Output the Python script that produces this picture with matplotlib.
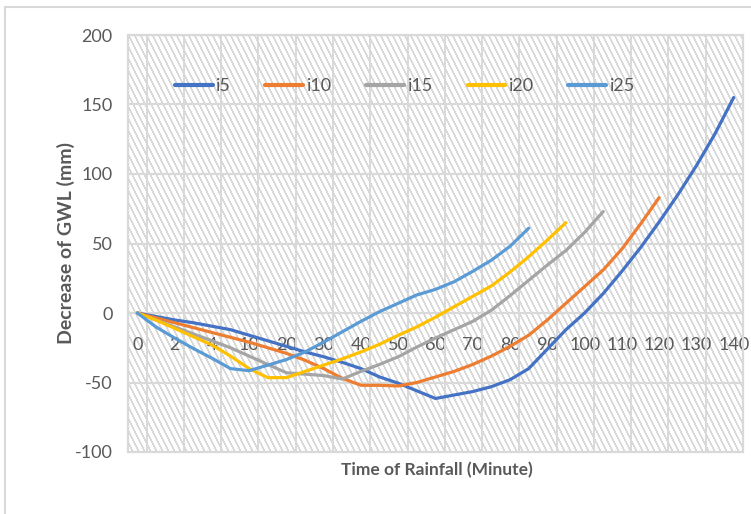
import numpy as np
import matplotlib
matplotlib.use("Agg")
import matplotlib.pyplot as plt
from matplotlib.patches import Rectangle

# ---- data ----
minutes = [0, 1, 2, 3, 4, 5, 10, 15, 20, 25, 30, 35, 40, 45, 50, 55, 60, 65, 70,
           75, 80, 85, 90, 95, 100, 105, 110, 115, 120, 125, 130, 135, 140]
i5 = [0, -2.5, -5, -7, -9.5, -12, -16, -20, -24, -28, -31.5, -35.5, -40, -46, -50.5,
      -56, -61.5, -59, -56.5, -53, -48, -40, -26, -12, 0, 14, 30, 47, 65.5, 85, 106, 129, 155]
i10 = [0, -3.5, -7, -10.5, -14, -17.5, -21, -25, -29, -34, -40, -47, -52, -52, -52.5,
       -50, -46, -42, -37, -31, -24, -16, -5, 7, 19, 31, 46, 64, 83]
i15 = [0, -5, -10, -15, -20, -25, -31, -37, -43, -44, -45, -47.5, -42, -37, -31.5,
       -24.5, -18, -12, -6, 2, 12.5, 23.5, 34.5, 45, 58, 73]
i20 = [0, -5, -11, -17, -23, -31, -40, -46.5, -46.5, -42, -37.5, -33, -28, -22.5, -16,
       -10, -3, 4.5, 12, 19.5, 29.5, 40.5, 52.5, 65]
i25 = [0, -10, -18, -25.5, -32.5, -40, -41.5, -37.5, -33.5, -28, -21, -13.5, -6, 1, 7,
       13, 17, 22.5, 30, 38, 48, 61]
series_names = ["i5", "i10", "i15", "i20", "i25"]
series_colors = ["#4472C4", "#ED7D31", "#A5A5A5", "#FFC000", "#5B9BD5"]
y_ticks = [-100, -50, 0, 50, 100, 150, 200]

plt.rcParams["font.family"] = ["Lato", "DejaVu Sans"]
plt.rcParams["axes.unicode_minus"] = False

W, H = 751, 514
fig = plt.figure(figsize=(W / 100, H / 100), dpi=100)
fig.patch.set_facecolor("white")

# plot-area position in pixels
L, R, T, B = 128, 743, 35, 452
pos = [L / W, 1 - B / H, (R - L) / W, (B - T) / H]

# fine downward-diagonal hatch, placed pixel-exact
ph, pw = B - T, R - L
ii, jj = np.mgrid[0:ph, 0:pw]
stripe = ((jj - ii // 2) % 6) < 2
img = np.ones((ph, pw, 3))
img[stripe] = np.array([216, 216, 216]) / 255.0
fig.figimage(img, xo=L, yo=H - B, origin="upper", zorder=0)

ax = fig.add_axes(pos, zorder=1)
ax.patch.set_alpha(0)

x = np.arange(len(minutes))
for name, col, vals in zip(series_names, series_colors, [i5, i10, i15, i20, i25]):
    ax.plot(x[:len(vals)], vals, color=col, lw=2.3, label=name,
            solid_joinstyle="round", solid_capstyle="round", zorder=3)

ax.set_xlim(-0.5, len(minutes) - 0.5)
ax.set_ylim(-100, 200)
ax.set_yticks(y_ticks)
major = list(range(0, len(minutes), 2))
ax.set_xticks(major)
ax.set_xticklabels([str(minutes[i]) for i in major])
ax.set_xticks(np.arange(0.5, len(minutes) - 1, 2), minor=True)

for s in ax.spines.values():
    s.set_visible(False)
ax.spines["bottom"].set_position(("data", 0))

ax.grid(axis="y", which="major", color="#d9d9d9", lw=1.6, zorder=1)
ax.grid(axis="x", which="minor", color="#d9d9d9", lw=1.4, zorder=1)
ax.grid(axis="x", which="major", visible=False)
ax.tick_params(axis="both", which="both", length=0)
ax.tick_params(axis="y", pad=11, labelsize=13, labelcolor="#595959")
ax.tick_params(axis="x", pad=17, labelsize=13, labelcolor="#595959")

ax.add_patch(Rectangle((0, 0), 1, 1, transform=ax.transAxes, fill=False,
                       edgecolor="#d9d9d9", lw=1.6, clip_on=False, zorder=2))

leg = ax.legend(ncol=5, loc="center", bbox_to_anchor=(405 / W, 1 - 86 / H),
                bbox_transform=fig.transFigure, frameon=False, fontsize=13,
                handlelength=2.1, handletextpad=0.2, columnspacing=1.9)
for t in leg.get_texts():
    t.set_color("#595959")
for h in leg.get_lines():
    h.set_linewidth(3)

fig.text(66 / W, 1 - 243 / H, "Decrease of GWL (mm)", rotation=90, ha="center",
         va="center", fontsize=14, fontweight="bold", color="#595959")
fig.text(437 / W, 1 - 470 / H, "Time of Rainfall (Minute)", ha="center",
         va="center", fontsize=12.5, fontweight="bold", color="#595959")

# outer chart frame (partially cropped in the reference)
fig.add_artist(Rectangle((5 / W, -0.2), 1.2, 1.2 - 7 / H,
                         transform=fig.transFigure, fill=False,
                         edgecolor="#d9d9d9", lw=1.5))

fig.savefig("out.png", dpi=100, facecolor="white")
